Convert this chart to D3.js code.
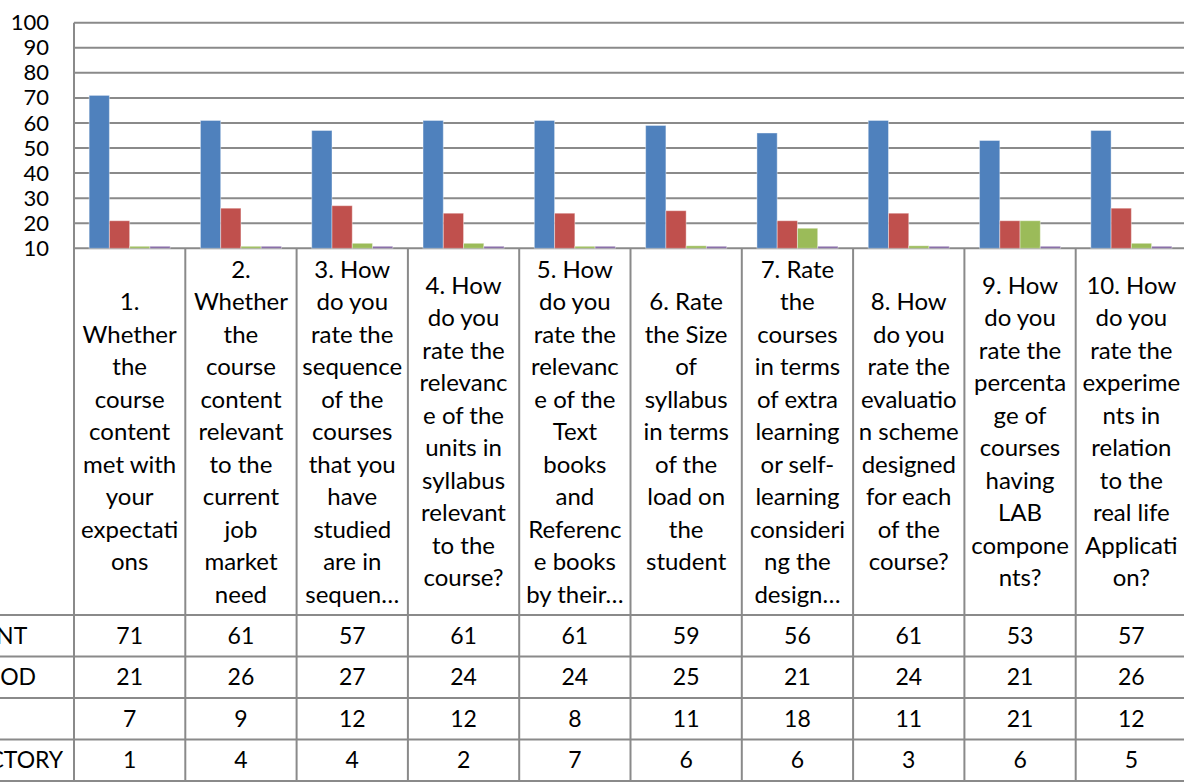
<!DOCTYPE html>
<html>
<head>
<meta charset="utf-8">
<script src="https://cdn.jsdelivr.net/npm/d3@7"></script>
<style>
  body { margin: 0; background: #fff; overflow: hidden; }
  svg { display: block; font-family: Lato, "Open Sans", sans-serif; }
</style>
</head>
<body>
<div id="chart"></div>
<script>
// data
var categories = ["Q1","Q2","Q3","Q4","Q5","Q6","Q7","Q8","Q9","Q10"];
var categoryLines = [
  ["1.","Whether","the","course","content","met with","your","expectati","ons"],
  ["2.","Whether","the","course","content","relevant","to the","current","job","market","need"],
  ["3. How","do you","rate the","sequence","of the","courses","that you","have","studied","are in","sequen…"],
  ["4. How","do you","rate the","relevanc","e of the","units in","syllabus","relevant","to the","course?"],
  ["5. How","do you","rate the","relevanc","e of the","Text","books","and","Referenc","e books","by their…"],
  ["6. Rate","the Size","of","syllabus","in terms","of the","load on","the","student"],
  ["7. Rate","the","courses","in terms","of extra","learning","or self-","learning","consideri","ng the","design…"],
  ["8. How","do you","rate the","evaluatio","n scheme","designed","for each","of the","course?"],
  ["9. How","do you","rate the","percenta","ge of","courses","having","LAB","compone","nts?"],
  ["10. How","do you","rate the","experime","nts in","relation","to the","real life","Applicati","on?"]
];
var seriesNames = ["EXCELLENT","VERY GOOD","GOOD","SATISFACTORY"];
var excellent    = [71, 61, 57, 61, 61, 59, 56, 61, 53, 57];
var veryGood     = [21, 26, 27, 24, 24, 25, 21, 24, 21, 26];
var good         = [7, 9, 12, 12, 8, 11, 18, 11, 21, 12];
var satisfactory = [1, 4, 4, 2, 7, 6, 6, 3, 6, 5];
var yTicks = [10, 20, 30, 40, 50, 60, 70, 80, 90, 100];

var seriesValues = [excellent, veryGood, good, satisfactory];
var colors = ["#4F81BD", "#C0504D", "#9BBB59", "#8064A2"];

var width = 1184, height = 782;
var plotLeft = 74, plotTop = 22.7, plotBottom = 248.3;
var catWidth = 111.3;
var headerBottom = 615;
var rowHeight = 41.5;
var gridColor = "#8a8a8a";

var svg = d3.select("#chart").append("svg")
  .attr("width", width)
  .attr("height", height);

/* Scales */
var xScale = d3.scaleBand()
  .domain(categories)
  .range([plotLeft, plotLeft + catWidth * categories.length]);

var xInner = d3.scaleBand()
  .domain(seriesNames)
  .range([catWidth * 0.136, catWidth * 0.864]);

var yScale = d3.scaleLinear()
  .domain([10, 100])
  .range([plotBottom, plotTop]);

var right = xScale.range()[1];

/* Gridlines */
svg.append("g")
  .selectAll("line")
  .data(yTicks).enter()
  .append("line")
  .attr("x1", plotLeft)
  .attr("x2", right)
  .attr("y1", d => yScale(d))
  .attr("y2", d => yScale(d))
  .attr("stroke", gridColor)
  .attr("stroke-width", 2);

/* Y axis */
var yAxis = d3.axisLeft(yScale).tickValues(yTicks).tickSize(0).tickPadding(0);
var yg = svg.append("g")
  .attr("transform", `translate(${plotLeft - 25}, 0)`)
  .call(yAxis);
yg.select(".domain").remove();
yg.selectAll("text")
  .attr("fill", "#000")
  .style("font-size", "22px")
  .style("font-family", "Lato, sans-serif");

svg.append("line")
  .attr("x1", plotLeft).attr("x2", plotLeft)
  .attr("y1", plotTop).attr("y2", height)
  .attr("stroke", gridColor).attr("stroke-width", 2);

/* Bars */
var groups = svg.append("g")
  .selectAll("g")
  .data(seriesValues).enter()
  .append("g")
  .attr("fill", (d, i) => colors[i]);

groups.selectAll("rect")
  .data((d, i) => d.map((v, j) => ({ v: v, cat: categories[j], s: seriesNames[i] })))
  .enter()
  .append("rect")
  .attr("x", d => xScale(d.cat) + xInner(d.s))
  .attr("width", xInner.bandwidth())
  .attr("y", d => Math.min(yScale(Math.max(d.v, 10)), plotBottom - 2))
  .attr("height", d => Math.max(plotBottom - yScale(Math.max(d.v, 10)), 2))
  .attr("stroke", "#fff")
  .attr("stroke-opacity", 0.4)
  .attr("stroke-width", 1);

/* Data table */
var table = svg.append("g");

// vertical lines between categories
table.selectAll("line.v")
  .data(categories).enter()
  .append("line")
  .attr("class", "v")
  .attr("x1", (d, i) => plotLeft + catWidth * (i + 1))
  .attr("x2", (d, i) => plotLeft + catWidth * (i + 1))
  .attr("y1", plotBottom)
  .attr("y2", height)
  .attr("stroke", gridColor).attr("stroke-width", 2);

// horizontal row lines
var rowLines = d3.range(seriesNames.length + 1).map(i => headerBottom + i * rowHeight);
table.selectAll("line.h")
  .data(rowLines).enter()
  .append("line")
  .attr("class", "h")
  .attr("x1", 0)
  .attr("x2", right)
  .attr("y1", d => d)
  .attr("y2", d => d)
  .attr("stroke", gridColor).attr("stroke-width", 2);

// category headers
var lineGap = 32.5;
var headerMid = (plotBottom + headerBottom) / 2;
table.selectAll("text.cat")
  .data(categoryLines).enter()
  .append("text")
  .attr("class", "cat")
  .attr("text-anchor", "middle")
  .attr("fill", "#000")
  .style("font-size", "24px")
  .each(function(lines, i) {
    var t = d3.select(this);
    var cx = xScale(categories[i]) + catWidth / 2;
    var y0 = headerMid - (lines.length - 1) * lineGap / 2;
    lines.forEach(function(l, k) {
      t.append("tspan")
        .attr("x", cx)
        .attr("y", y0 + k * lineGap)
        .attr("dy", "0.35em")
        .text(l);
    });
  });

// row labels (cut off at the left edge, as in the original)
table.selectAll("text.row")
  .data(seriesNames).enter()
  .append("text")
  .attr("class", "row")
  .attr("x", -97)
  .attr("y", (d, i) => headerBottom + (i + 0.5) * rowHeight)
  .attr("dy", "0.35em")
  .attr("fill", "#000")
  .style("font-size", "23px")
  .text(d => d);

// values
seriesValues.forEach(function(vals, i) {
  table.append("g")
    .selectAll("text")
    .data(vals).enter()
    .append("text")
    .attr("x", (d, j) => xScale(categories[j]) + catWidth / 2)
    .attr("y", headerBottom + (i + 0.5) * rowHeight)
    .attr("dy", "0.35em")
    .attr("text-anchor", "middle")
    .attr("fill", "#000")
    .style("font-size", "23px")
    .text(d => d);
});
</script>
</body>
</html>
